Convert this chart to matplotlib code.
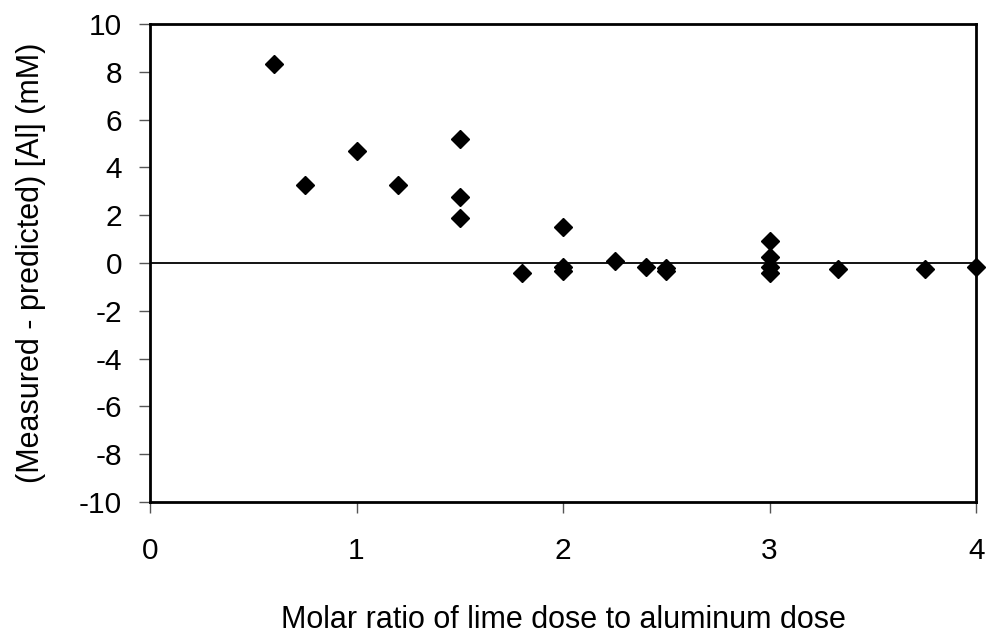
import matplotlib
matplotlib.use("Agg")
import matplotlib.pyplot as plt

# molar ratio (lime / aluminum) and residual [Al] (mM)
ratio = [0.6, 0.75, 1.0, 1.2, 1.5, 1.5, 1.5,
         1.8, 2.0, 2.0, 2.0, 2.25, 2.4, 2.5, 2.5,
         3.0, 3.0, 3.0, 3.0, 3.33, 3.75, 4.0]
resid = [8.35, 3.25, 4.7, 3.25, 5.2, 2.75, 1.9,
         -0.43, 1.5, -0.15, -0.35, 0.08, -0.18, -0.22, -0.32,
         0.92, 0.27, -0.15, -0.4, -0.27, -0.27, -0.15]

xticks = [0, 1, 2, 3, 4]
yticks = list(range(-10, 11, 2))

plt.rcParams['font.family'] = ['Liberation Sans', 'DejaVu Sans']
plt.rcParams['axes.unicode_minus'] = False

fig = plt.figure(figsize=(9.87, 6.36), dpi=100)
ax = fig.add_axes([0.152, 0.211, 0.837, 0.751])

ax.axhline(0, color='black', linewidth=1.3, zorder=1)
ax.plot(ratio, resid, linestyle='none', marker='D', markersize=9.5,
        color='black', clip_on=False, zorder=3)

ax.set_xlim(0, 4)
ax.set_ylim(-10, 10)
ax.set_xticks(xticks)
ax.set_yticks(yticks)
ax.tick_params(direction='out', length=8, width=1, color='#555555', labelsize=21.5)
ax.tick_params(axis='x', pad=17)
ax.tick_params(axis='y', pad=12)
for s in ax.spines.values():
    s.set_linewidth(2)

ax.set_xlabel("Molar ratio of lime dose to aluminum dose", fontsize=22, labelpad=29)
ax.set_ylabel("(Measured - predicted) [Al] (mM)", fontsize=22, labelpad=24)

fig.savefig("out.png", dpi=100)
